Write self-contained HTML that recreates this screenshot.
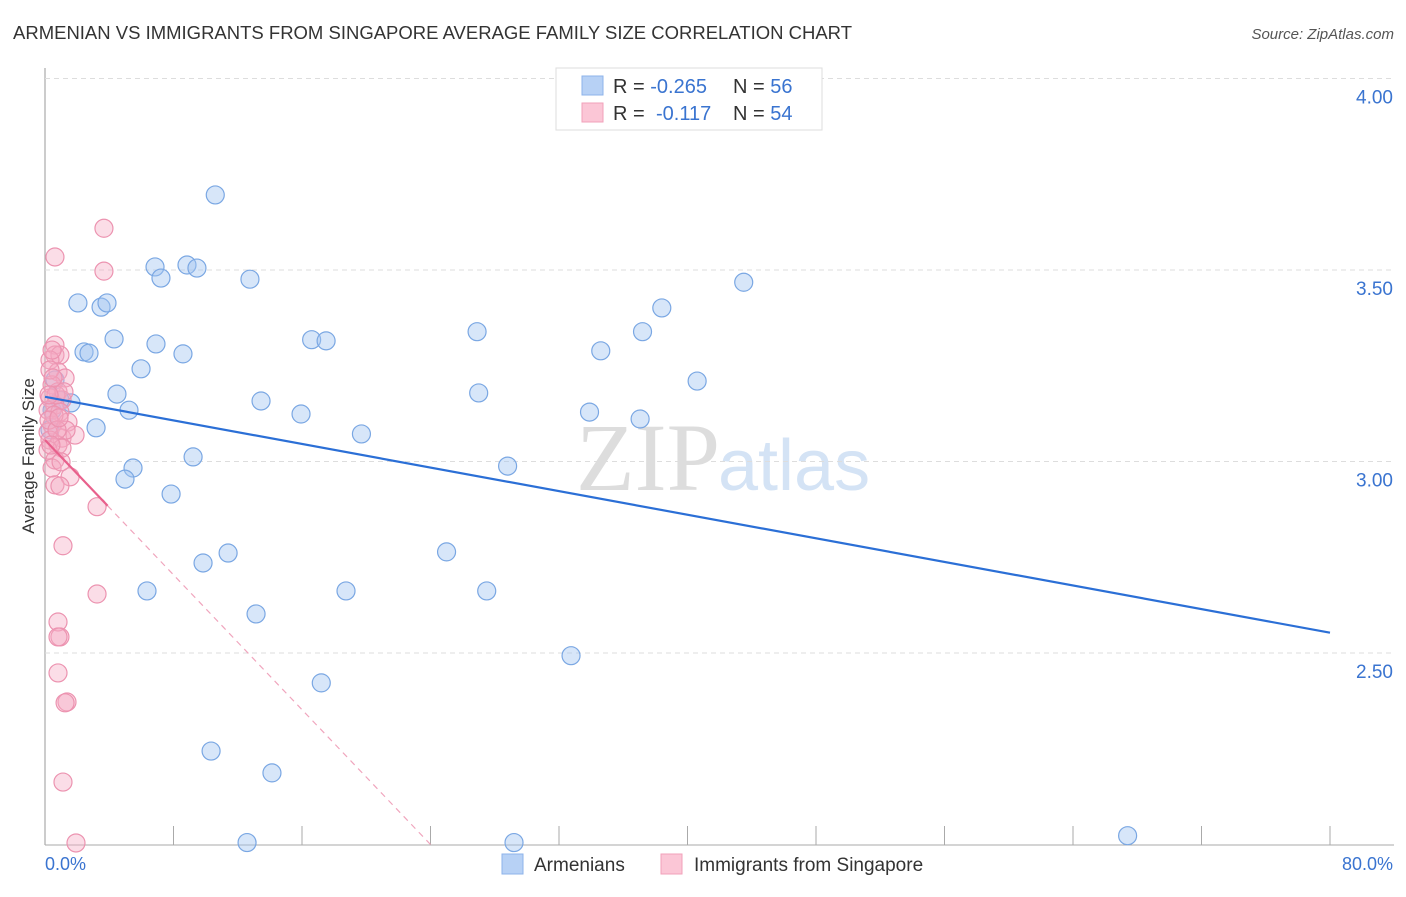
<!DOCTYPE html>
<html><head><meta charset="utf-8"><style>
body{margin:0;background:#fff;font-family:"Liberation Sans",sans-serif}
</style></head><body>
<svg id="c" width="1406" height="892" xmlns="http://www.w3.org/2000/svg">
<text x="13" y="39" font-size="18" fill="#333" textLength="839" lengthAdjust="spacingAndGlyphs">ARMENIAN VS IMMIGRANTS FROM SINGAPORE AVERAGE FAMILY SIZE CORRELATION CHART</text>
<text x="1394" y="39" font-size="15" fill="#555" font-style="italic" text-anchor="end">Source: ZipAtlas.com</text>
<text x="720" y="490" font-size="96" fill="#ddd" text-anchor="end" font-family="Liberation Serif">ZIP</text>
<text x="718" y="490" font-size="72" fill="#d4e3f5">atlas</text>
<g id="grid"></g><g id="pts"></g><g id="lines"></g>
<text transform="translate(34,456) rotate(-90)" font-size="17" fill="#333" text-anchor="middle">Average Family Size</text>
<text x="45" y="870" font-size="18" fill="#3a74d0">0.0%</text>
<text x="1393" y="870" font-size="18" fill="#3a74d0" text-anchor="end">80.0%</text>
<g>
<rect x="556" y="68" width="266" height="62" fill="#fff" stroke="#ddd"/>
<rect x="582" y="76" width="21" height="19" fill="#b7d1f5" stroke="#8db3ea"/>
<rect x="582" y="103" width="21" height="19" fill="#fbc6d6" stroke="#f1a0ba"/>
<text x="613" y="93" font-size="20" fill="#333">R = <tspan fill="#3a74d0">-0.265</tspan><tspan x="733">N = </tspan><tspan fill="#3a74d0">56</tspan></text>
<text x="613" y="120" font-size="20" fill="#333">R = <tspan x="656" fill="#3a74d0">-0.117</tspan><tspan x="733">N = </tspan><tspan fill="#3a74d0">54</tspan></text>
</g>
<g>
<rect x="502" y="854" width="21" height="20" fill="#b7d1f5" stroke="#8db3ea"/>
<text x="534" y="871" font-size="19" fill="#333">Armenians</text>
<rect x="661" y="854" width="21" height="20" fill="#fbc6d6" stroke="#f1a0ba"/>
<text x="694" y="871" font-size="19" fill="#333">Immigrants from Singapore</text>
</g>
</svg>
<script>
const yTicks=[4.0,3.5,3.0,2.5];
const yTickLabels=["4.00","3.50","3.00","2.50"];
const xTicks=[0,8,16,24,32,40,48,56,64,72,80];
const blueX=[10.6,6.85,8.84,9.46,7.22,12.76,43.5,2.05,3.49,3.86,38.4,4.30,16.6,17.5,26.9,37.2,6.91,8.59,2.43,2.74,34.6,5.98,40.6,4.48,27.0,13.45,1.62,5.23,15.94,33.9,37.05,19.7,3.18,9.22,5.48,28.8,4.98,7.85,25.0,11.4,9.84,6.35,18.74,27.5,13.14,32.75,17.2,10.34,14.13,12.58,29.2,67.4,0.31,0.62,0.44,0.93];
const blueY=[3.696,3.508,3.513,3.505,3.479,3.476,3.468,3.414,3.403,3.414,3.401,3.320,3.318,3.315,3.339,3.339,3.307,3.281,3.286,3.283,3.289,3.242,3.210,3.176,3.179,3.158,3.153,3.134,3.124,3.129,3.111,3.072,3.088,3.012,2.983,2.988,2.954,2.915,2.764,2.761,2.735,2.662,2.662,2.662,2.602,2.493,2.422,2.244,2.187,2.005,2.005,2.023,3.083,3.213,3.134,3.16];
const pinkX=[3.67,0.62,3.67,0.62,0.62,0.93,0.31,0.81,1.25,0.44,0.81,0.31,1.06,0.62,0.19,0.93,1.43,0.44,0.19,1.06,1.87,0.31,0.81,1.06,0.19,0.62,0.44,1.56,0.62,0.93,3.24,1.12,3.24,0.81,0.93,0.81,0.81,1.37,1.25,1.12,1.93,0.31,0.68,0.56,1.18,0.44,1.31,0.25,0.75,0.5,1.0,0.25,0.87,0.37];
const pinkY=[3.609,3.534,3.497,3.304,3.278,3.278,3.265,3.234,3.218,3.200,3.182,3.166,3.161,3.147,3.134,3.129,3.103,3.095,3.077,3.061,3.069,3.056,3.043,3.035,3.030,3.004,2.983,2.960,2.939,2.936,2.882,2.780,2.654,2.581,2.542,2.542,2.448,2.372,2.370,2.163,2.004,3.239,3.174,3.121,3.182,3.291,3.082,3.108,3.082,3.218,2.999,3.174,3.114,3.043];
const blueTrend=[3.169,-0.0077];
const pinkTrend=[3.056,-0.044];
const X=v=>45+v/80*1285, Y=v=>78.5+(4-v)*383;
const ns="http://www.w3.org/2000/svg";
function mk(t,a,p){const e=document.createElementNS(ns,t);for(const k in a)e.setAttribute(k,a[k]);p.appendChild(e);return e;}
const g=document.getElementById('grid');
let ax=mk('line',{x1:45,y1:68,x2:45,y2:845,stroke:'#aaa','stroke-width':1.2},g);


let bx=mk('line',{x1:45,y1:845,x2:1394,y2:845,stroke:'#aaa','stroke-width':1},g);


yTicks.forEach((v,i)=>{
 const l=mk('line',{x1:45,y1:Y(v),x2:1394,y2:Y(v),stroke:'#ddd','stroke-dasharray':'5,4'},g);
 
 
 const t=mk('text',{x:1393,y:Y(v)+25,'font-size':19,fill:'#3a74d0','text-anchor':'end'},g);
 t.textContent=yTickLabels[i];
 
 
});
xTicks.forEach(v=>{
 const l=mk('line',{x1:X(v),y1:826,x2:X(v),y2:845,stroke:'#aaa'},g);
 
 
});
const p=document.getElementById('pts');
blueX.forEach((x,i)=>{
 const c=mk('circle',{cx:X(x),cy:Y(blueY[i]),r:9,fill:'rgba(160,195,240,0.42)',stroke:'#7aa7e3','stroke-width':1.2},p);
 
 
});
pinkX.forEach((x,i)=>{
 const c=mk('circle',{cx:X(x),cy:Y(pinkY[i]),r:9,fill:'rgba(246,170,195,0.4)',stroke:'#ec93b0','stroke-width':1.2},p);
 
 
});
const L=document.getElementById('lines');
let bl=mk('line',{x1:X(0),y1:Y(blueTrend[0]),x2:X(80),y2:Y(blueTrend[0]+80*blueTrend[1]),stroke:'#2b6fd6','stroke-width':2.2},L);


const pEnd=(2.0-pinkTrend[0])/pinkTrend[1];
let pd=mk('line',{x1:X(3.9),y1:Y(pinkTrend[0]+3.9*pinkTrend[1]),x2:X(pEnd),y2:Y(2.0),stroke:'#f0a5bd','stroke-width':1.2,'stroke-dasharray':'6,5'},L);


let ps=mk('line',{x1:X(0),y1:Y(pinkTrend[0]),x2:X(3.9),y2:Y(pinkTrend[0]+3.9*pinkTrend[1]),stroke:'#e8608c','stroke-width':2.2},L);


</script>
</body></html>
